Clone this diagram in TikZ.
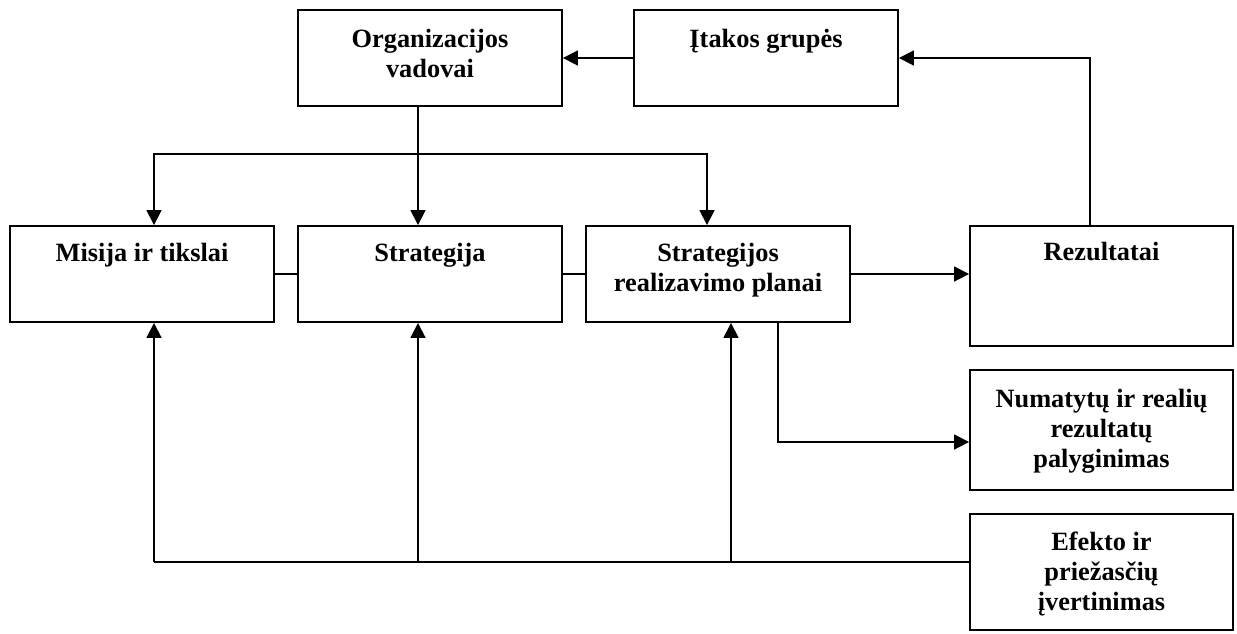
\documentclass[tikz,border=0pt]{standalone}
\usepackage{fontspec}
\setmainfont{Liberation Serif}
\usetikzlibrary{positioning,arrows.meta}

\tikzset{
  blokas/.style={draw, line width=1.1pt, minimum width=5.28cm, minimum height=1.92cm, inner sep=0pt},
  tekstas/.style={font=\fontsize{15}{17}\selectfont\bfseries, align=center, inner sep=0pt, anchor=north},
  linija/.style={line width=1pt},
  rodykle/.style={line width=1pt, -{Triangle[length=3mm, width=3mm]}}
}

\begin{document}
\begin{tikzpicture}[x=0.02cm, y=-0.02cm]
\useasboundingbox (0,0) rectangle (1237,633);
% blokai
\node[blokas] (org) at (430,58) {};
\node[blokas] (itakos) at (766,58) {};
\node[blokas] (misija) at (142,274) {};
\node[blokas] (strategija) at (430,274) {};
\node[blokas] (planai) at (718,274) {};
\node[blokas, minimum width=5.26cm, minimum height=2.4cm] (rezultatai) at (1101.5,286) {};
\node[blokas, minimum width=5.26cm, minimum height=2.4cm] (numatytu) at (1101.5,430) {};
\node[blokas, minimum width=5.26cm, minimum height=2.32cm] (efekto) at (1101.5,572) {};
% tekstai
\node[tekstas, below=0.4cm of org.north] (orgT) {Organizacijos\\vadovai};
\node[tekstas, below=0.4cm of itakos.north] (itakosT) {Įtakos grupės};
\node[tekstas, below=0.36cm of misija.north] (misijaT) {Misija ir tikslai};
\node[tekstas, below=0.36cm of strategija.north] (strategijaT) {Strategija};
\node[tekstas, below=0.36cm of planai.north] (planaiT) {Strategijos\\realizavimo planai};
\node[tekstas, below=0.34cm of rezultatai.north] (rezultataiT) {Rezultatai};
\node[tekstas, below=0.4cm of numatytu.north] (numatytuT) {Numatytų ir realių\\rezultatų\\palyginimas};
\node[tekstas, below=0.38cm of efekto.north] (efektoT) {Efekto ir\\priežasčių\\įvertinimas};
% jungtys
\coordinate (sakaV) at (418,154);
\coordinate (sakaK) at (154,154);
\coordinate (sakaD) at (707,154);
\coordinate (grizK) at (154,562);
\coordinate (grizV) at (418,562);
\coordinate (grizD) at (731,562);
\coordinate (lyg) at (778,442);
\coordinate (rezV) at (1090,0);
\draw[rodykle] (itakos) -- (org);
\draw[rodykle] (rezultatai.north -| rezV) |- (itakos.east);
\draw[rodykle] (org.south -| sakaV) -- (strategija.north -| sakaV);
\draw[rodykle] (sakaV) -| (misija.north -| sakaK);
\draw[rodykle] (sakaV) -| (planai.north -| sakaD);
\draw[linija] (misija) -- (strategija);
\draw[linija] (strategija) -- (planai);
\draw[rodykle] (planai.east) -- (planai.east -| rezultatai.west);
\draw[rodykle] (planai.south -| lyg) |- (numatytu.west |- lyg);
\draw[linija] (efekto.west |- grizK) -- (grizK);
\draw[rodykle] (grizK) -- (misija.south -| grizK);
\draw[rodykle] (grizV) -- (strategija.south -| grizV);
\draw[rodykle] (grizD) -- (planai.south -| grizD);
\end{tikzpicture}
\end{document}
